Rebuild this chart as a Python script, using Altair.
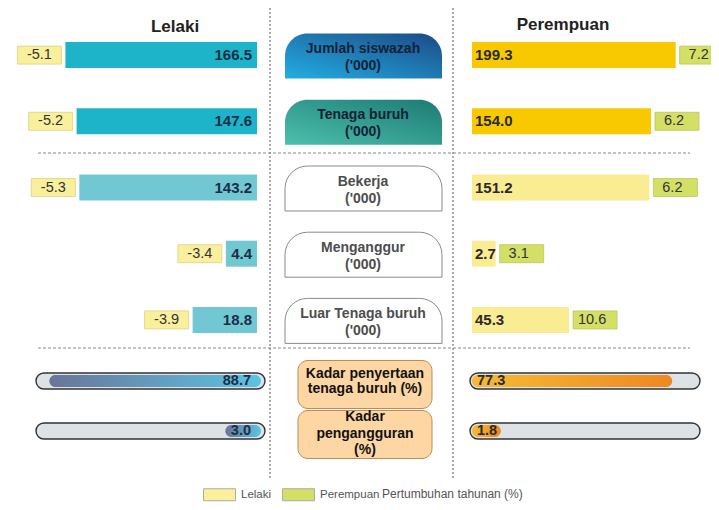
import altair as alt
import pandas as pd

# ---------------- data ----------------
categories = ["Jumlah siswazah\n('000)", "Tenaga buruh\n('000)", "Bekerja\n('000)",
              "Menganggur\n('000)", "Luar Tenaga buruh\n('000)"]
male_values = [166.5, 147.6, 143.2, 4.4, 18.8]
female_values = [199.3, 154.0, 151.2, 2.7, 45.3]
male_growth = [-5.1, -5.2, -5.3, -3.4, -3.9]
female_growth = [7.2, 6.2, 6.2, 3.1, 10.6]

rate_categories = ["Kadar penyertaan\ntenaga buruh (%)", "Kadar\npengangguran\n(%)"]
male_rates = [88.7, 3.0]
female_rates = [77.3, 1.8]

headers = ["Lelaki", "Perempuan"]
legend_labels = ["Lelaki", "Perempuan"]
legend_title = "Pertumbuhan tahunan (%)"

main = pd.DataFrame({
    "cat": categories,
    "male": male_values,
    "female": female_values,
    "male_g": male_growth,
    "female_g": female_growth,
    "sm": legend_labels[0],
    "sf": legend_labels[1],
})
rates = pd.DataFrame({"cat": rate_categories, "male": male_rates, "female": female_rates})
one = pd.DataFrame({"k": [0]})

FONT = "Arial, Liberation Sans, sans-serif"
top2 = alt.FieldOneOfPredicate(field="cat", oneOf=categories[:2])
rest3 = alt.FieldOneOfPredicate(field="cat", oneOf=categories[2:])


def hyphen_fmt(field):
    return (f"datum.{field} < 0 ? '-' + format(-datum.{field}, '.1f') "
            f": format(datum.{field}, '.1f')")


# ---------------- scales ----------------
male_x = alt.Scale(type="sqrt", domain=[0, 200], range=[249, 39], nice=False)
female_x = alt.Scale(type="sqrt", domain=[0, 200], range=[464, 668], nice=False)
male_r = alt.Scale(type="sqrt", domain=[0, 100], range=[257, 28], nice=False)
female_r = alt.Scale(type="sqrt", domain=[0, 100], range=[462, 692], nice=False)


def ym():
    return alt.Y("cat:N", scale=alt.Scale(domain=categories, range=[14, 345],
                                          paddingInner=0, paddingOuter=0), axis=None)


def yr():
    return alt.Y("cat:N", scale=alt.Scale(domain=rate_categories, range=[348, 448],
                                          paddingInner=0, paddingOuter=0), axis=None)


layers = []

# ---------------- separators ----------------
for xv in [262, 445]:
    layers.append(alt.Chart(one).mark_rule(color="#777", strokeDash=[2, 2], strokeWidth=1.2).encode(
        x=alt.value(xv), y=alt.value(-8), y2=alt.value(472)))
for yv in [145, 340]:
    layers.append(alt.Chart(one).mark_rule(color="#888", strokeDash=[3, 2], strokeWidth=1).encode(
        y=alt.value(yv), x=alt.value(30), x2=alt.value(682)))

# ---------------- headers ----------------
layers.append(alt.Chart(one).mark_text(font=FONT, fontSize=17, fontWeight="bold", color="#222").encode(
    x=alt.value(167), y=alt.value(19), text=alt.value(headers[0])))
layers.append(alt.Chart(one).mark_text(font=FONT, fontSize=17, fontWeight="bold", color="#222").encode(
    x=alt.value(555), y=alt.value(17), text=alt.value(headers[1])))

# ---------------- domes ----------------
blue_grad = alt.LinearGradient(gradient="linear", x1=0, y1=1, x2=1, y2=0,
                               stops=[alt.GradientStop(color="#22aee3", offset=0),
                                      alt.GradientStop(color="#1c4a86", offset=1)])
teal_grad = alt.LinearGradient(gradient="linear", x1=0, y1=1, x2=1, y2=0,
                               stops=[alt.GradientStop(color="#4cc0ad", offset=0),
                                      alt.GradientStop(color="#1c7a73", offset=1)])
dome_kw = dict(height=45, yOffset=1, cornerRadiusTopLeft=32, cornerRadiusTopRight=32)
layers.append(alt.Chart(main).transform_filter(alt.FieldEqualPredicate(field="cat", equal=categories[0]))
              .mark_bar(color=blue_grad, **dome_kw)
              .encode(x=alt.value(277), x2=alt.value(434), y=ym()))
layers.append(alt.Chart(main).transform_filter(alt.FieldEqualPredicate(field="cat", equal=categories[1]))
              .mark_bar(color=teal_grad, **dome_kw)
              .encode(x=alt.value(277), x2=alt.value(434), y=ym()))
layers.append(alt.Chart(main).transform_filter(rest3)
              .mark_bar(fill="white", stroke="#8a8a8a", strokeWidth=1, **dome_kw)
              .encode(x=alt.value(277), x2=alt.value(434), y=ym()))
layers.append(alt.Chart(main).transform_filter(top2)
              .mark_text(font=FONT, fontSize=14, fontWeight="bold", color="#142238",
                         lineBreak="\n", lineHeight=17, baseline="middle", dy=-6)
              .encode(x=alt.value(355), y=ym(), text="cat:N"))
layers.append(alt.Chart(main).transform_filter(rest3)
              .mark_text(font=FONT, fontSize=14, fontWeight="bold", color="#4d4d4d",
                         lineBreak="\n", lineHeight=17, baseline="middle", dy=-6)
              .encode(x=alt.value(355), y=ym(), text="cat:N"))

# ---------------- male bars ----------------
layers.append(alt.Chart(main).transform_filter(top2).mark_bar(height=26, color="#1db4c9").encode(
    x=alt.X("male:Q", scale=male_x, axis=None), x2=alt.datum(0), y=ym()))
layers.append(alt.Chart(main).transform_filter(rest3).mark_bar(height=26, color="#72c8d2").encode(
    x=alt.X("male:Q", scale=male_x, axis=None), x2=alt.datum(0), y=ym()))
layers.append(alt.Chart(main).mark_text(font=FONT, fontSize=15, fontWeight="bold", color="#1c2e45",
                                         align="right", dx=-5).encode(
    x=alt.XDatum(0, type="quantitative", scale=male_x, axis=None), y=ym(),
    text=alt.Text("male:Q", format=".1f")))

# ---------------- female bars ----------------
layers.append(alt.Chart(main).transform_filter(top2).mark_bar(height=26, color="#f8c900").encode(
    x=alt.X("female:Q", scale=female_x, axis=None), x2=alt.datum(0), y=ym()))
layers.append(alt.Chart(main).transform_filter(rest3).mark_bar(height=26, color="#f9ec92").encode(
    x=alt.X("female:Q", scale=female_x, axis=None), x2=alt.datum(0), y=ym()))
layers.append(alt.Chart(main).mark_text(font=FONT, fontSize=15, fontWeight="bold", color="#2a2a2a",
                                         align="left", dx=3).encode(
    x=alt.XDatum(0, type="quantitative", scale=female_x, axis=None), y=ym(),
    text=alt.Text("female:Q", format=".1f")))

# ---------------- growth boxes ----------------
color_scale = alt.Scale(domain=legend_labels, range=["#f9ef9c", "#d4df66"])
legend = alt.Legend(orient="none", legendX=195, legendY=470, direction="horizontal", title=None,
                    labelFont=FONT, labelFontSize=11.5, labelColor="#555", labelOffset=5,
                    symbolType="M -1 -0.375 L 1 -0.375 L 1 0.375 L -1 0.375 Z", symbolSize=1024,
                    symbolStrokeColor="#aaa", symbolStrokeWidth=1, columnPadding=8)
layers.append(alt.Chart(main).mark_bar(height=18, xOffset=-48, x2Offset=-4, stroke="#ddd27e",
                                        strokeWidth=0.8).encode(
    x=alt.X("male:Q", scale=male_x, axis=None), x2="male:Q", y=ym(),
    color=alt.Color("sm:N", scale=color_scale, legend=legend)))
layers.append(alt.Chart(main).transform_calculate(lbl=hyphen_fmt("male_g"))
              .mark_text(font=FONT, fontSize=14.5, color="#333", dx=-26).encode(
    x=alt.X("male:Q", scale=male_x, axis=None), y=ym(), text="lbl:N"))
layers.append(alt.Chart(main).mark_bar(height=18, xOffset=4, x2Offset=48, stroke="#bcc65c",
                                        strokeWidth=0.8).encode(
    x=alt.X("female:Q", scale=female_x, axis=None), x2="female:Q", y=ym(),
    color=alt.Color("sf:N", scale=color_scale, legend=legend)))
layers.append(alt.Chart(main).transform_calculate(lbl=hyphen_fmt("female_g"))
              .mark_text(font=FONT, fontSize=14.5, color="#333", dx=23).encode(
    x=alt.X("female:Q", scale=female_x, axis=None), y=ym(), text="lbl:N"))
layers.append(alt.Chart(one).mark_text(font=FONT, fontSize=12, color="#555", align="left",
                                        baseline="middle").encode(
    x=alt.value(374), y=alt.value(486), text=alt.value(legend_title)))

# ---------------- rate rows ----------------
pill_kw = dict(height=16, cornerRadius=8, fill="#dde2e7", stroke="#333", strokeWidth=1.4)
layers.append(alt.Chart(rates).mark_bar(**pill_kw).encode(
    x=alt.XDatum(100, type="quantitative", scale=male_r, axis=None), x2=alt.datum(0), y=yr()))
layers.append(alt.Chart(rates).mark_bar(**pill_kw).encode(
    x=alt.XDatum(100, type="quantitative", scale=female_r, axis=None), x2=alt.datum(0), y=yr()))

male_grad = alt.LinearGradient(gradient="linear", x1=0, y1=0, x2=1, y2=0,
                               stops=[alt.GradientStop(color="#6a7598", offset=0),
                                      alt.GradientStop(color="#5cc3e2", offset=1)])
female_grad = alt.LinearGradient(gradient="linear", x1=0, y1=0, x2=1, y2=0,
                                 stops=[alt.GradientStop(color="#f6bb35", offset=0),
                                        alt.GradientStop(color="#ee8820", offset=1)])
layers.append(alt.Chart(rates).mark_bar(height=12, cornerRadius=6, color=male_grad, x2Offset=-4).encode(
    x=alt.X("male:Q", scale=male_r, axis=None), x2=alt.datum(0), y=yr()))
layers.append(alt.Chart(rates).mark_bar(height=12, cornerRadius=6, color=female_grad, x2Offset=2).encode(
    x=alt.X("female:Q", scale=female_r, axis=None), x2=alt.datum(0), y=yr()))
layers.append(alt.Chart(rates).mark_text(font=FONT, fontSize=14.5, fontWeight="bold", color="#1c2e45",
                                          align="right", dx=-14).encode(
    x=alt.XDatum(0, type="quantitative", scale=male_r, axis=None), y=yr(),
    text=alt.Text("male:Q", format=".1f")))
layers.append(alt.Chart(rates).mark_text(font=FONT, fontSize=14.5, fontWeight="bold", color="#2a2a2a",
                                          align="left", dx=7).encode(
    x=alt.XDatum(0, type="quantitative", scale=female_r, axis=None), y=yr(),
    text=alt.Text("female:Q", format=".1f")))

# rate labels (peach boxes)
layers.append(alt.Chart(rates).mark_bar(height=48, yOffset=3.5, cornerRadius=10, fill="#fdd6a4",
                                         stroke="#b88d57", strokeWidth=1).encode(
    x=alt.value(290), x2=alt.value(424), y=yr()))
layers.append(alt.Chart(rates).transform_filter(alt.FieldEqualPredicate(field="cat", equal=rate_categories[0]))
              .mark_text(font=FONT, fontSize=14, fontWeight="bold", color="#111",
                         lineBreak="\n", lineHeight=15, baseline="middle", dy=-7).encode(
    x=alt.value(357), y=yr(), text="cat:N"))
layers.append(alt.Chart(rates).transform_filter(alt.FieldEqualPredicate(field="cat", equal=rate_categories[1]))
              .mark_text(font=FONT, fontSize=14, fontWeight="bold", color="#111",
                         lineBreak="\n", lineHeight=16.5, baseline="middle", dy=-14).encode(
    x=alt.value(357), y=yr(), text="cat:N"))

chart = (
    alt.layer(*layers)
    .resolve_scale(x="independent", y="independent")
    .properties(width=703, height=494, padding=0, autosize=alt.AutoSizeParams(type="none"),
                background="white")
    .configure_view(stroke=None)
)

chart.save("out.html", embed_options={"renderer": "svg", "actions": False})
